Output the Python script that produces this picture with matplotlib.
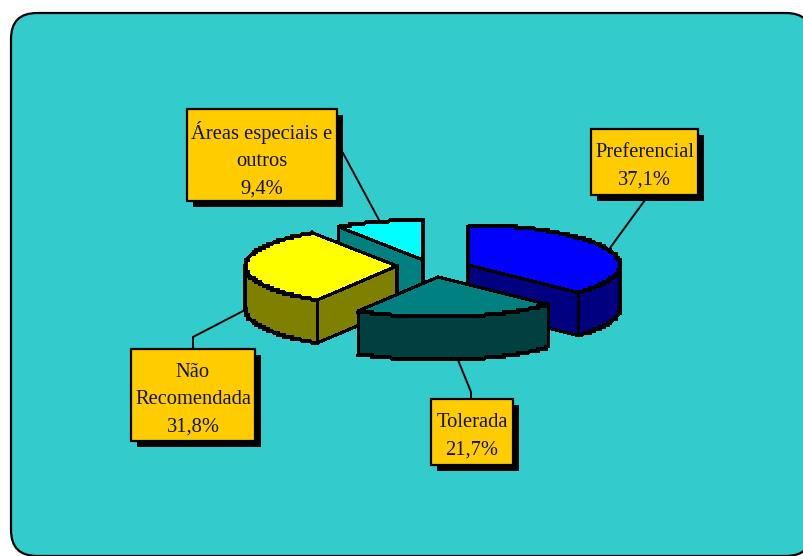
import numpy as np
import matplotlib
matplotlib.use("Agg")
import matplotlib.pyplot as plt
from matplotlib.patches import Polygon, Rectangle, FancyBboxPatch

# Share of each class, in drawing order clockwise from twelve o'clock
categories = ["Preferencial", "Tolerada", "Não\nRecomendada", "Áreas especiais e\noutros"]
shares = [37.1, 21.7, 31.8, 9.4]

top_colors = ["#0000FF", "#008080", "#FFFF00", "#00FFFF"]
side_colors = ["#000080", "#004040", "#808000", "#008080"]

BG = "#33CCCC"
BOX = "#FFCC00"
A, B, DEPTH = 152, 40, 43  # ellipse semi-axes and extrusion, px
STEP = 2                   # coarse pixel stepping of the rim outline

# Apex of each exploded slice, px
apex = [(468, 265), (438, 277), (397, 266), (423, 260)]
# Callout rectangles (x0, y0, x1, y1), px
boxes = [(591, 129, 698, 195), (431, 399, 513, 465), (131, 349, 255, 441), (187, 109, 337, 201)]
# Leader polylines, px
leaders = [
    [(645, 200), (610, 248)],
    [(471, 399), (471, 392), (458, 360)],
    [(193, 349), (193, 337), (245, 310)],
    [(343, 153), (379, 220)],
]
draw_order = [3, 0, 2, 1]

fig = plt.figure(figsize=(8.04, 5.56), dpi=100, facecolor="white")
ax = fig.add_axes([0, 0, 1, 1])
ax.set_xlim(0, 804)
ax.set_ylim(556, 0)
ax.axis("off")

ax.add_patch(FancyBboxPatch((11, 13), 801, 543, boxstyle="round,pad=0,rounding_size=26",
                            fc=BG, ec="black", lw=1.6, zorder=0))


def rim(c, t0, t1):
    """Points on the slice's elliptical rim, angles in degrees clockwise from top."""
    t = np.radians(np.linspace(t0, t1, max(int(abs(t1 - t0)) * 3, 2)))
    pts = np.column_stack([c[0] + A * np.sin(t), c[1] - B * np.cos(t)])
    pts[1:-1] = np.round(pts[1:-1] / STEP) * STEP
    return pts


def face(points, color, z):
    ax.add_patch(Polygon(points, closed=True, fc=color, ec="black", lw=1.5,
                         joinstyle="miter", antialiased=False, zorder=z))


for leader in leaders:
    xs, ys = zip(*leader)
    ax.plot(xs, ys, color="black", lw=1.4, zorder=1)

edges = np.concatenate([[0], np.cumsum(shares) / np.sum(shares) * 360])
z = 2
for i in draw_order:
    t0, t1 = edges[i], edges[i + 1]
    c = apex[i]
    drop = np.array([0, DEPTH])
    # Radial walls turned toward the viewer
    if 180 < t0 < 360:
        p = rim(c, t0, t0)[0]
        face([c, p, p + drop, np.array(c) + drop], side_colors[i], z)
        z += 1
    if 0 < t1 < 180:
        p = rim(c, t1, t1)[0]
        face([c, p, p + drop, np.array(c) + drop], side_colors[i], z)
        z += 1
    # Outer wall, front half of the ellipse only
    a0, a1 = max(t0, 90), min(t1, 270)
    if a1 > a0:
        arc = rim(c, a0, a1)
        face(np.vstack([arc, arc[::-1] + drop]), side_colors[i], z)
        z += 1
    face(np.vstack([[c], rim(c, t0, t1)]), top_colors[i], z)
    z += 1

for name, share, (x0, y0, x1, y1) in zip(categories, shares, boxes):
    w, h = x1 - x0, y1 - y0
    ax.add_patch(Rectangle((x0 + 6, y0 + 6), w, h, fc="black", ec="none", zorder=30))
    ax.add_patch(Rectangle((x0, y0), w, h, fc=BOX, ec="black", lw=1.6, zorder=31))
    label = f"{name}\n{share:.1f}%".replace(".", ",")
    ax.text((x0 + x1) / 2, (y0 + y1) / 2 + 4.5, label, ha="center", va="center",
            family="Liberation Serif", fontsize=14.8, linespacing=1.58,
            color="#111111", zorder=32)

fig.savefig("out.png", dpi=100, facecolor="white")
